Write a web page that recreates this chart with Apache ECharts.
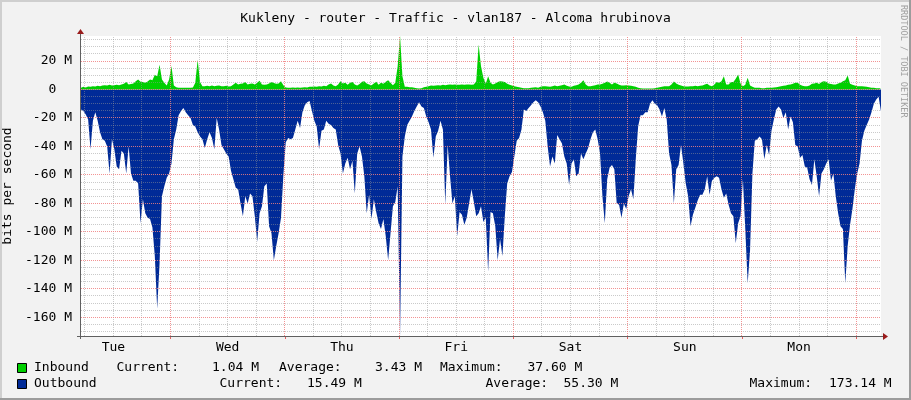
<!DOCTYPE html>
<html><head><meta charset="utf-8">
<script src="https://cdn.jsdelivr.net/npm/echarts@6/dist/echarts.min.js"></script>
<style>html,body{margin:0;padding:0;background:#f2f2f2}#c{width:911px;height:400px}</style>
</head><body><div id="c"></div>
<script>
const TITLE = 'Kukleny - router - Traffic - vlan187 - Alcoma hrubinova';
const Y_NAME = 'bits per second';
const WATERMARK = 'RRDTOOL / TOBI OETIKER';
const STEP_H = 0.5;           // sample spacing in hours, first sample at hour 0
const X_MAX_H = 168;

// Outbound traffic (M bit/s, drawn negative), one row = 6 hours
const OUTBOUND = [
  -14, -15, -17.6, -21, -42, -22, -16, -22, -30, -35, -36, -40,
  -59, -35, -42, -54, -56, -43, -45, -59, -40, -59, -64, -64,
  -66, -94, -77, -87, -90, -91, -97, -117, -154, -122, -75, -68,
  -62, -59, -52, -35, -28, -18, -15, -13, -16, -18, -20, -25,
  -26, -30, -33, -35, -41, -35, -30, -34, -42, -20, -28, -39,
  -42, -45, -47, -57, -63, -69, -70, -80, -89, -75, -80, -73,
  -75, -89, -107, -87, -82, -68, -66, -96, -101, -120, -110, -101,
  -90, -60, -37, -34, -35, -34, -28, -22, -27, -16, -11, -9,
  -8, -15, -22, -26, -42, -29, -28, -22, -24, -25, -27, -28,
  -39, -45, -59, -52, -48, -56, -50, -73, -45, -40, -47, -61,
  -87, -74, -91, -77, -86, -94, -98, -91, -103, -120, -101, -82,
  -79, -68, -173.14, -47, -33, -25, -22, -19, -15, -12, -9, -12,
  -13, -19, -23, -28, -48, -33, -29, -22, -28, -81, -39, -61,
  -80, -75, -103, -86, -88, -95, -90, -80, -70, -79, -89, -87,
  -82, -93, -90, -128, -86, -87, -96, -120, -105, -117, -89, -66,
  -61, -58, -47, -36, -34, -28, -14, -15, -13, -11, -9, -7.5,
  -9, -12, -16, -22, -40, -54, -47, -52, -32, -35, -38, -47,
  -52, -67, -52, -49, -61, -59, -45, -49, -45, -41, -35, -30,
  -28, -35, -45, -75, -94, -63, -55, -53, -56, -80, -81, -90,
  -80, -84, -75, -70, -77, -49, -26, -18, -18, -16, -16, -10,
  -7.5, -10, -11, -14, -19, -13, -21, -45, -53, -80, -56, -53,
  -39, -52, -66, -75, -96, -88, -83, -78, -74, -74, -70, -61,
  -74, -64, -62, -61, -62, -70, -76, -73, -81, -87, -89, -108,
  -94, -89, -63, -98, -136, -113, -59, -36, -35, -33, -35, -49,
  -39, -46, -29, -21, -14, -12, -14, -20, -16, -28, -19, -23,
  -39, -40, -48, -46, -54, -55, -63, -67, -49, -61, -75, -59,
  -56, -52, -49, -64, -59, -75, -87, -96, -98, -136, -110, -95,
  -84, -70, -59, -52, -36, -29, -25, -21, -16, -10, -7, -5,
  -15.49
];

// Inbound traffic (M bit/s), one row = 6 hours
const INBOUND = [
  1.2, 1.9, 1.4, 2.1, 1.9, 2.3, 2.1, 2.6, 2.3, 2.8, 3.0, 2.8,
  3.3, 2.8, 3.0, 3.3, 3.0, 3.5, 4.0, 5.2, 3.5, 3.8, 4.2, 5.9,
  7.0, 5.4, 5.2, 4.7, 5.6, 7.0, 6.6, 10.3, 9.4, 17.4, 7.0, 4.7,
  2.8, 7.0, 16.6, 2.8, 1.6, 1.2, 1.2, 1.2, 1.2, 1.2, 1.2, 1.4,
  4.7, 21, 5.2, 2.3, 2.3, 2.6, 2.3, 2.8, 2.3, 2.6, 2.8, 2.3,
  2.3, 2.6, 2.1, 2.3, 3.5, 4.7, 3.5, 4.0, 4.2, 5.2, 3.5, 4.0,
  4.2, 3.5, 4.7, 6.1, 3.5, 3.3, 3.5, 4.2, 5.2, 4.5, 4.0, 4.2,
  5.9, 3.0, 1.4, 1.2, 1.2, 1.4, 1.2, 1.4, 1.2, 1.4, 1.6, 1.4,
  1.9, 1.9, 2.1, 1.9, 2.3, 2.1, 2.6, 2.3, 3.5, 4.2, 2.8, 2.3,
  3.5, 5.9, 4.2, 4.7, 3.3, 4.7, 5.2, 3.5, 2.8, 3.8, 5.4, 5.9,
  4.2, 3.5, 3.0, 4.2, 5.4, 3.3, 4.7, 4.0, 5.4, 6.6, 4.7, 3.0,
  4.7, 16.4, 37.6, 9.4, 1.9, 1.9, 1.6, 1.6, 1.2, 0.9, 0.7, 0.9,
  1.6, 1.9, 2.3, 2.8, 2.6, 2.8, 3.0, 2.8, 3.3, 3.0, 3.3, 3.5,
  3.3, 3.5, 3.3, 3.3, 3.5, 3.3, 3.5, 3.5, 3.3, 3.5, 5.9, 31.7,
  16.4, 8.2, 4.0, 9.4, 4.7, 3.5, 4.2, 5.2, 5.9, 5.6, 5.2, 4.0,
  3.3, 2.8, 2.3, 1.9, 1.6, 1.2, 0.9, 0.9, 0.9, 1.2, 1.4, 1.6,
  1.2, 1.9, 2.3, 2.3, 2.1, 1.9, 2.3, 2.8, 2.3, 2.6, 3.0, 3.5,
  2.6, 2.1, 1.9, 2.6, 3.0, 3.5, 4.7, 6.6, 3.5, 2.3, 2.3, 2.6,
  3.0, 3.5, 3.5, 4.0, 4.7, 5.6, 4.7, 3.5, 4.7, 4.2, 3.3, 2.8,
  2.8, 3.0, 2.8, 2.6, 2.3, 1.9, 1.2, 0.9, 0.7, 0.7, 0.7, 0.7,
  0.7, 0.9, 1.2, 1.6, 1.9, 2.3, 2.3, 2.3, 3.5, 5.6, 4.2, 3.3,
  2.8, 2.3, 2.1, 2.1, 2.3, 2.3, 2.6, 2.3, 2.6, 2.8, 3.5, 4.0,
  2.8, 2.3, 3.5, 5.2, 4.7, 5.9, 9.4, 3.5, 3.5, 5.2, 5.2, 7.5,
  10.6, 4.2, 2.3, 3.3, 8.2, 2.8, 1.9, 1.2, 1.2, 1.2, 0.9, 0.9,
  1.2, 1.2, 1.2, 1.4, 1.6, 1.9, 2.3, 2.6, 2.8, 3.3, 3.5, 4.0,
  4.7, 4.7, 3.3, 2.6, 2.3, 2.3, 2.8, 4.0, 4.2, 4.7, 3.8, 5.2,
  5.9, 5.4, 4.2, 3.8, 3.5, 3.5, 4.2, 4.7, 5.9, 6.6, 9.8, 4.0,
  3.3, 2.8, 2.3, 2.3, 2.3, 2.1, 1.9, 1.6, 1.2, 1.2, 0.9, 0.9,
  1.04
];

const Y_MIN = -173.14, Y_MAX = 37.6;
const Y_LABEL_TICKS = [-160, -140, -120, -100, -80, -60, -40, -20, 0, 20];
const Y_MINOR_STEP = 5;
const MIDNIGHT_HOURS = [18.8, 42.8, 66.8, 90.8, 114.8, 138.8, 162.8];
const DAY_LABEL_HOURS = [6.8, 30.8, 54.8, 78.8, 102.8, 126.8, 150.8];
const DAY_LABELS = ['Tue', 'Wed', 'Thu', 'Fri', 'Sat', 'Sun', 'Mon'];
const MINOR_X_STEP_H = 6;

const LEGEND_NAMES = ['Inbound', 'Outbound'];
const LEGEND_COLORS = ['#00CF00', '#002A97'];
const CUR = ['1.04 M', '15.49 M'];
const AVG = ['3.43 M', '55.30 M'];
const MAX = ['37.60 M', '173.14 M'];

// ---------- layout ----------
const FONT = "'DejaVu Sans Mono', monospace";
const FS = 13;
const G = { left: 81, top: 36, right: 881, bottom: 336 };

const pts = arr => arr.map((v, i) => [i * STEP_H, v]);

const minorY = [];
for (let v = -170; v <= 35; v += Y_MINOR_STEP) if (v % 20 !== 0) minorY.push(v);
const minorX = [];
for (let h = MIDNIGHT_HOURS[0] % MINOR_X_STEP_H; h < X_MAX_H; h += MINOR_X_STEP_H) {
  if (!MIDNIGHT_HOURS.some(m => Math.abs(m - h) < 0.01)) minorX.push(+h.toFixed(2));
}
const minorXTicks = minorX.slice();

const minorStyle = { color: 'rgba(150,150,150,0.5)', type: [1, 1], width: 1, opacity: 1 };
const MAJOR_COLOR = '#f08080';
const MAJOR_OPACITY = 0.85;

const legendRows = [
  { y: 368, items: [[LEGEND_NAMES[0], 34], ['Current:', 116.5], [CUR[0], 212], ['Average:', 279], [AVG[0], 375], ['Maximum:', 440], [MAX[0], 527.5]] },
  { y: 384, items: [[LEGEND_NAMES[1], 34], ['Current:', 219.5], [CUR[1], 307], ['Average:', 485.5], [AVG[1], 563.5], ['Maximum:', 749.5], [MAX[1], 829]] }
];

const graphic = [
  { type: 'rect', shape: { x: 0, y: 0, width: 911, height: 2 }, style: { fill: '#cfcfcf' }, z: 100 },
  { type: 'rect', shape: { x: 0, y: 0, width: 2, height: 400 }, style: { fill: '#cfcfcf' }, z: 100 },
  { type: 'rect', shape: { x: 909, y: 0, width: 2, height: 400 }, style: { fill: '#9c9c9c' }, z: 100 },
  { type: 'rect', shape: { x: 0, y: 398, width: 911, height: 2 }, style: { fill: '#9c9c9c' }, z: 100 },
  { type: 'line', shape: { x1: G.left - 0.5, y1: G.bottom + 3, x2: G.left - 0.5, y2: G.top - 4 }, style: { stroke: '#606060', lineWidth: 1 }, z: 100 },
  { type: 'polygon', shape: { points: [[G.left - 4, G.top - 2], [G.left + 3, G.top - 2], [G.left - 0.5, G.top - 7]] }, style: { fill: '#9a1c1c' }, z: 101 },
  { type: 'line', shape: { x1: G.left - 4, y1: G.bottom + 0.5, x2: G.right + 3, y2: G.bottom + 0.5 }, style: { stroke: '#606060', lineWidth: 1 }, z: 100 },
  { type: 'polygon', shape: { points: [[G.right + 2, G.bottom - 3], [G.right + 2, G.bottom + 4], [G.right + 7, G.bottom + 0.5]] }, style: { fill: '#9a1c1c' }, z: 101 },
  { type: 'text', x: 903, y: 5, rotation: -Math.PI / 2,
    style: { text: WATERMARK, fill: '#a0a0a0', font: "8.5px 'DejaVu Sans Mono', monospace", textAlign: 'left', textVerticalAlign: 'middle' }, z: 100 }
];
legendRows.forEach((row, r) => {
  graphic.push({ type: 'rect', shape: { x: 17.5, y: row.y - 4.5, width: 9, height: 9 },
    style: { fill: LEGEND_COLORS[r], stroke: '#000', lineWidth: 1 }, z: 100 });
  row.items.forEach(([t, x]) => {
    graphic.push({ type: 'text', x: x, y: row.y,
      style: { text: t, fill: '#000', font: FS + 'px ' + FONT, textAlign: 'left', textVerticalAlign: 'middle' }, z: 100 });
  });
});

const chart = echarts.init(document.getElementById('c'), null, { renderer: 'canvas' });
chart.setOption({
  animation: false,
  backgroundColor: '#f2f2f2',
  title: {
    text: TITLE, left: 'center', top: 7,
    textStyle: { fontFamily: FONT, fontSize: FS, fontWeight: 'normal', color: '#000' }
  },
  grid: {
    left: G.left, top: G.top, width: G.right - G.left, height: G.bottom - G.top,
    containLabel: false, outerBoundsMode: 'none',
    show: true, backgroundColor: '#ffffff', borderWidth: 0
  },
  xAxis: [{
    type: 'value', min: 0, max: X_MAX_H,
    axisLine: { show: false },
    splitLine: { show: false },
    axisTick: { show: true, customValues: minorXTicks, length: 3, lineStyle: { color: '#909090' } },
    axisLabel: {
      customValues: DAY_LABEL_HOURS, margin: 5,
      fontFamily: FONT, fontSize: FS, color: '#000',
      formatter: v => {
        let best = 0;
        DAY_LABEL_HOURS.forEach((h, i) => { if (Math.abs(h - v) < Math.abs(DAY_LABEL_HOURS[best] - v)) best = i; });
        return DAY_LABELS[best];
      }
    }
  }, {
    // same scale, only draws the red midnight ticks below the axis
    type: 'value', min: 0, max: X_MAX_H, position: 'bottom',
    axisLine: { show: false }, splitLine: { show: false }, axisLabel: { show: false },
    axisTick: { show: true, customValues: MIDNIGHT_HOURS, length: 3, lineStyle: { color: '#e06060' } }
  }],
  yAxis: {
    type: 'value', min: Y_MIN, max: Y_MAX,
    name: Y_NAME, nameLocation: 'middle', nameGap: 67,
    nameTextStyle: { fontFamily: FONT, fontSize: FS, color: '#000' },
    axisLine: { show: false },
    splitLine: { show: false },
    axisTick: { show: false },
    axisLabel: {
      customValues: Y_LABEL_TICKS, margin: 9,
      fontFamily: FONT, fontSize: FS, color: '#000',
      formatter: v => (v === 0 ? '0  ' : v + ' M')
    }
  },
  series: [
    {
      name: LEGEND_NAMES[1], type: 'line', data: pts(OUTBOUND), showSymbol: false, symbol: 'none',
      lineStyle: { width: 0 }, areaStyle: { color: LEGEND_COLORS[1], opacity: 1 }, z: 2, silent: true
    },
    {
      name: LEGEND_NAMES[0], type: 'line', data: pts(INBOUND), showSymbol: false, symbol: 'none',
      lineStyle: { width: 0 }, areaStyle: { color: LEGEND_COLORS[0], opacity: 1 }, z: 3, silent: true
    },
    {
      name: 'minorGrid', type: 'line', data: [], z: 10, silent: true,
      markLine: { silent: true, symbol: ['none', 'none'], label: { show: false }, animation: false,
        emphasis: { disabled: true }, lineStyle: minorStyle, data: [] }
    }
  ],
  graphic: graphic
});

// Snap grid lines to pixel centres (via the chart's own scales) so the dotted lines stay crisp.
const snapY = v => chart.convertFromPixel({ yAxisIndex: 0 }, Math.round(chart.convertToPixel({ yAxisIndex: 0 }, v) - 0.5) + 0.5);
const snapX = v => chart.convertFromPixel({ xAxisIndex: 0 }, Math.round(chart.convertToPixel({ xAxisIndex: 0 }, v) - 0.5) + 0.5);
const minorLines = minorY.map(v => ({ yAxis: snapY(v) })).concat(minorX.map(v => ({ xAxis: snapX(v) })));

// Major (red) grid lines as plain line series spanning the axes.
const majorSeries = (data) => ({
  type: 'line', data: data, showSymbol: false, symbol: 'none', silent: true, z: 11,
  color: MAJOR_COLOR,
  lineStyle: { color: MAJOR_COLOR, type: [1, 1], width: 1, opacity: MAJOR_OPACITY },
  emphasis: { disabled: true }, animation: false
});
const majors = []
  .concat(Y_LABEL_TICKS.map(v => { const s = snapY(v); return majorSeries([[0, s], [X_MAX_H, s]]); }))
  .concat(MIDNIGHT_HOURS.map(h => { const s = snapX(h); return majorSeries([[s, Y_MIN], [s, Y_MAX]]); }));

chart.setOption({ series: [{}, {}, { markLine: { data: minorLines } }].concat(majors) });
</script></body></html>
